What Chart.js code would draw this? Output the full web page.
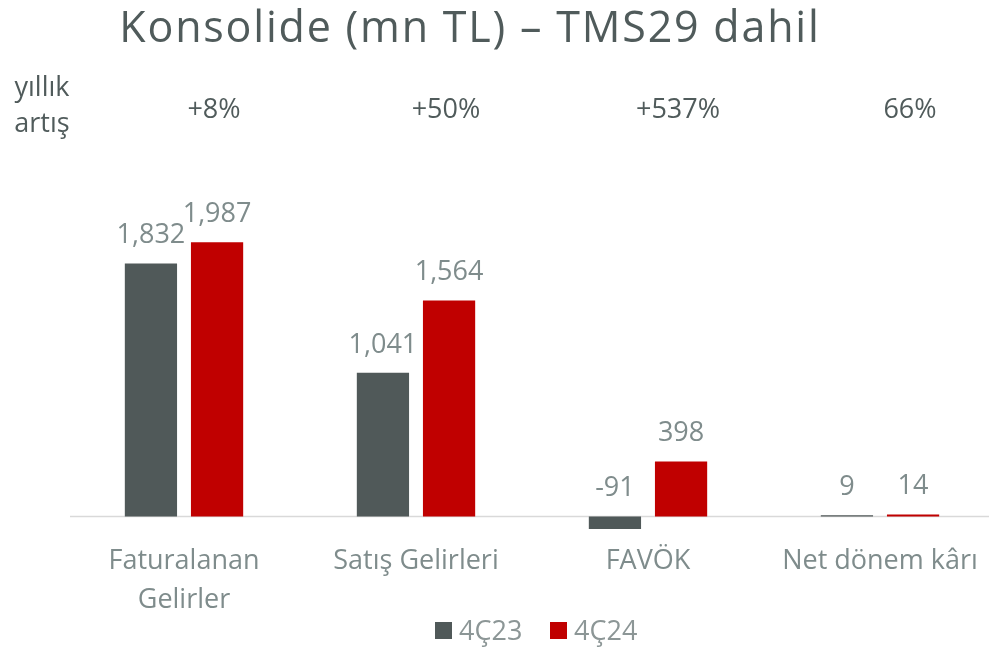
<!DOCTYPE html>
<html>
<head>
<meta charset="utf-8">
<script src="https://cdn.jsdelivr.net/npm/chart.js@4"></script>
<style>
  html, body { margin: 0; padding: 0; background: #fff; overflow: hidden; }
  #wrap { width: 996px; height: 656px; position: relative; }
</style>
</head>
<body>
<div id="wrap"><canvas id="chart"></canvas></div>
<script>
// veriler
const categories = [['Faturalanan', 'Gelirler'], 'Satış Gelirleri', 'FAVÖK', 'Net dönem kârı'];
const series4C23 = [1832, 1041, -91, 9];
const series4C24 = [1987, 1564, 398, 14];
const growthLabels = ['+8%', '+50%', '+537%', '66%'];
const seriesNames = ['4Ç23', '4Ç24'];
const titleText = 'Konsolide (mn TL) – TMS29 dahil';
const growthHeader = ['yıllık', 'artış'];

const FONT = '"Open Sans", "Noto Sans", sans-serif';
const GRAY = '#505959';
const RED = '#C00000';
const DARK_TEXT = '#505B5B';
const LIGHT_TEXT = '#7F8C8C';

// başlık, yıllık artış, değer etiketleri, sıfır çizgisi ve lejant
const overlayPlugin = {
    id: 'overlay',
    beforeDatasetsDraw(chart) {
        const { ctx, scales } = chart;
        const y0 = scales.y.getPixelForValue(0);
        ctx.save();
        ctx.strokeStyle = '#D9D9D9';
        ctx.lineWidth = 1.5;
        ctx.beginPath();
        ctx.moveTo(70, y0);
        ctx.lineTo(989, y0);
        ctx.stroke();
        ctx.restore();
    },
    afterDraw(chart) {
        const { ctx, scales } = chart;
        ctx.save();
        ctx.textAlign = 'center';
        ctx.textBaseline = 'middle';

        // başlık
        ctx.fillStyle = DARK_TEXT;
        ctx.font = `43px ${FONT}`;
        ctx.letterSpacing = '1.8px';
        ctx.fillText(titleText, 470, 30);
        ctx.letterSpacing = '0px';

        // yıllık artış
        ctx.font = `27px ${FONT}`;
        ctx.fillText(growthHeader[0], 42, 88);
        ctx.fillText(growthHeader[1], 42, 124);
        growthLabels.forEach((txt, i) => {
            const x = scales.x.getPixelForValue(i) + 30;
            ctx.fillText(txt, x, 110);
        });

        // değer etiketleri
        ctx.fillStyle = LIGHT_TEXT;
        ctx.font = `27px ${FONT}`;
        chart.data.datasets.forEach((ds, di) => {
            const meta = chart.getDatasetMeta(di);
            meta.data.forEach((bar, i) => {
                const v = ds.data[i];
                const top = Math.min(bar.y, bar.base);
                ctx.fillText(v.toLocaleString('en-US'), bar.x, top - 28);
            });
        });

        // lejant
        const colors = [GRAY, RED];
        const lx = [435, 550];
        ctx.textAlign = 'left';
        ctx.font = `27px ${FONT}`;
        seriesNames.forEach((name, i) => {
            ctx.fillStyle = colors[i];
            ctx.fillRect(lx[i], 622, 17, 17);
            ctx.fillStyle = '#8C9696';
            ctx.fillText(name, lx[i] + 24, 632);
        });
        ctx.restore();
    }
};

new Chart(document.getElementById('chart'), {
    type: 'bar',
    data: {
        labels: categories,
        datasets: [
            { label: seriesNames[0], data: series4C23, backgroundColor: GRAY },
            { label: seriesNames[1], data: series4C24, backgroundColor: RED }
        ]
    },
    options: {
        responsive: true,
        maintainAspectRatio: false,
        animation: false,
        events: [],
        layout: { padding: { top: 199, bottom: 31, left: 68, right: 0 } },
        datasets: {
            bar: { categoryPercentage: 0.57, barPercentage: 0.79 }
        },
        scales: {
            x: {
                grid: { display: false, drawTicks: false },
                border: { display: false },
                ticks: {
                    color: LIGHT_TEXT,
                    font: { family: FONT, size: 27, lineHeight: 1.44 },
                    padding: 5,
                    maxRotation: 0,
                    autoSkip: false
                }
            },
            y: {
                display: false,
                min: -150,
                max: 2300
            }
        },
        plugins: {
            legend: { display: false },
            title: { display: false },
            tooltip: { enabled: false }
        }
    },
    plugins: [overlayPlugin]
});
</script>
</body>
</html>
